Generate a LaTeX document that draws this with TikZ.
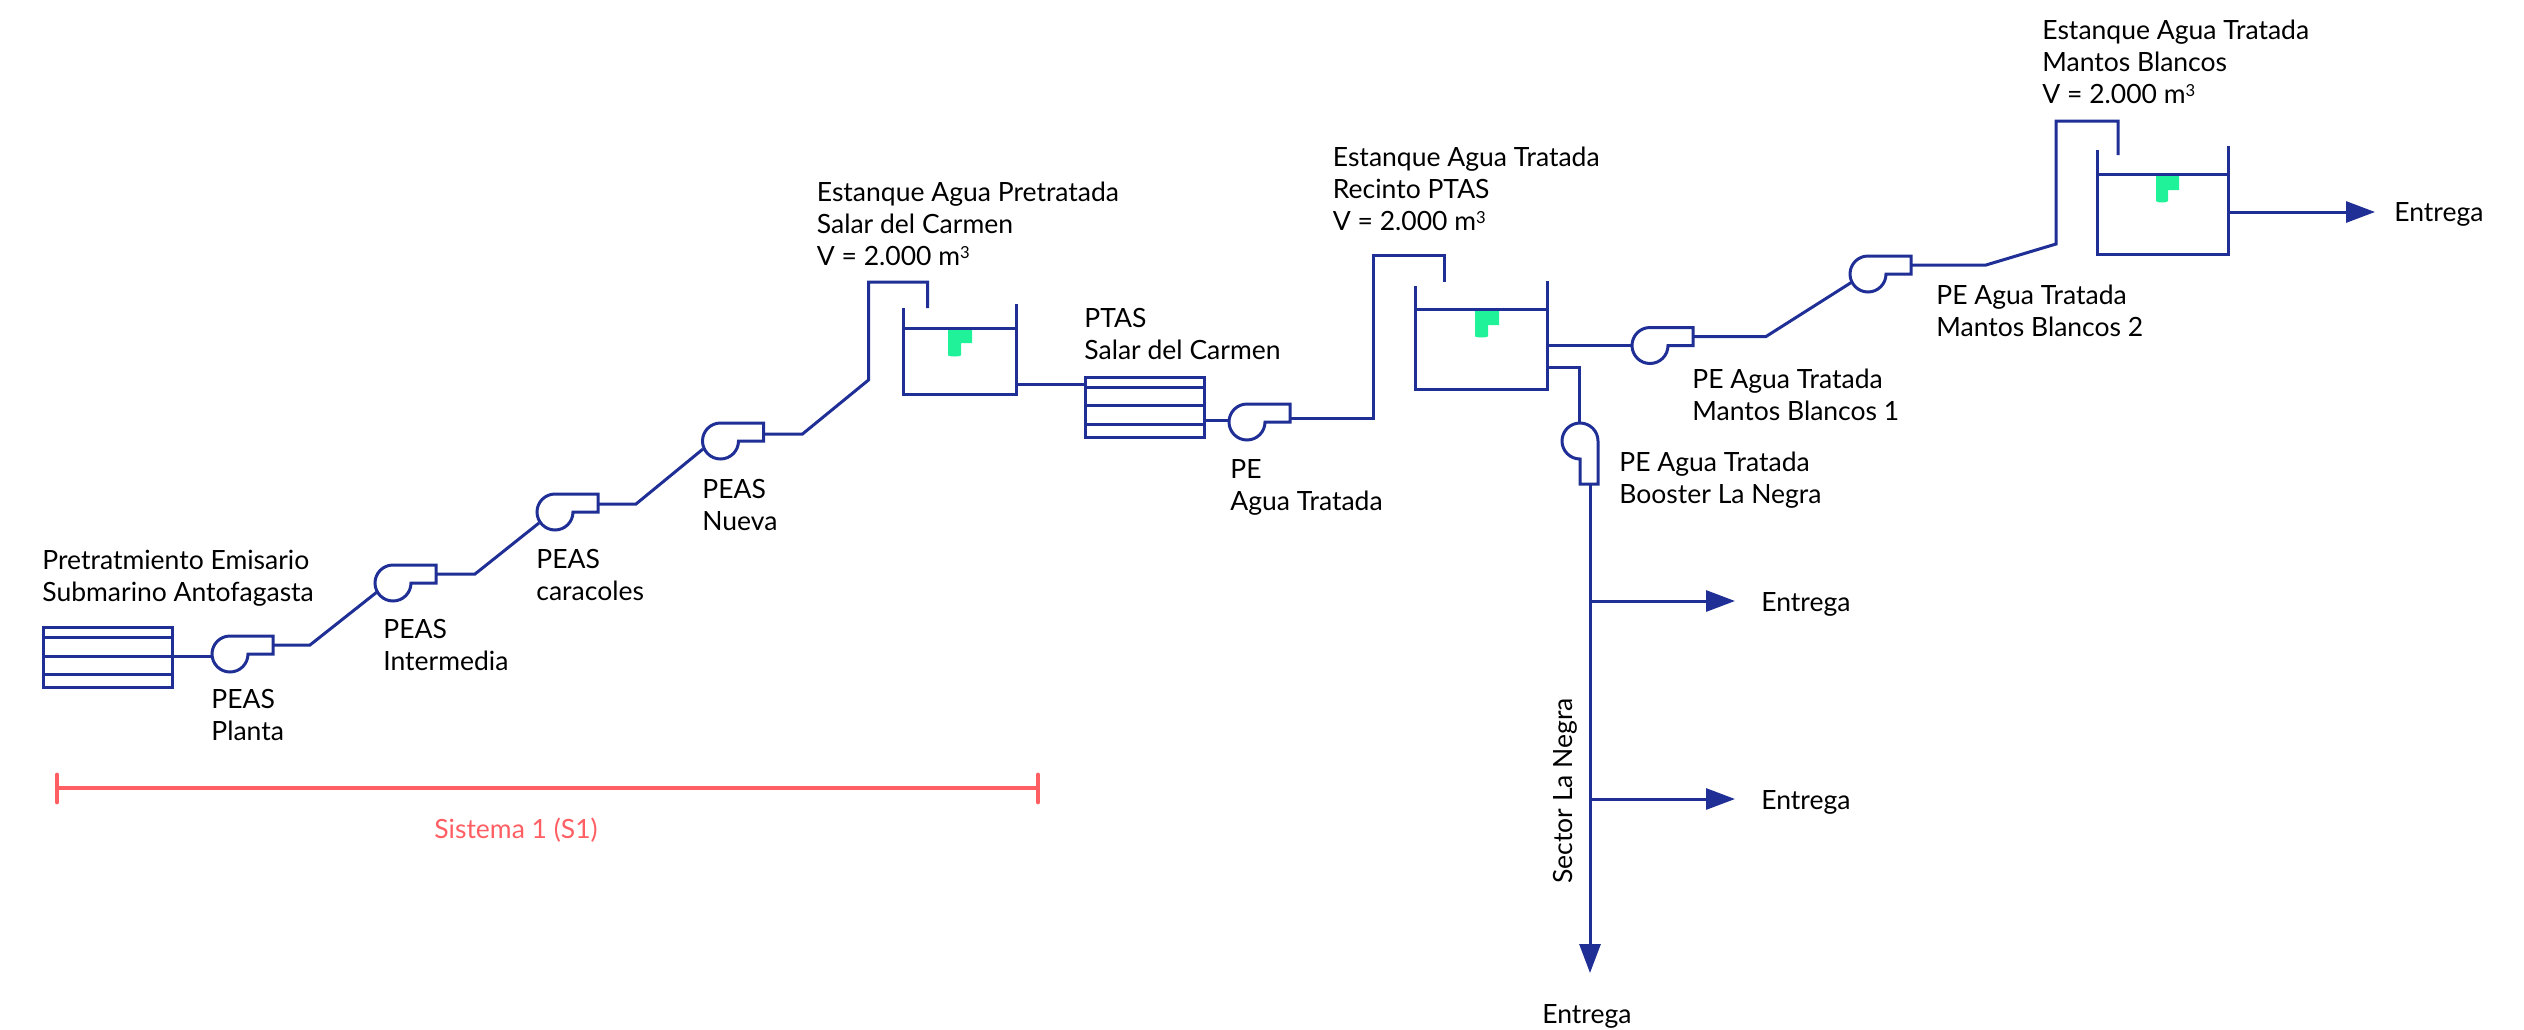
\documentclass[tikz,border=0pt]{standalone}
\usepackage{fontspec}
\setmainfont{Lato}
\usetikzlibrary{arrows.meta}
\definecolor{pipe}{HTML}{1F2F96}
\definecolor{sysred}{HTML}{FF5F63}
\definecolor{lvl}{HTML}{20F29A}
\tikzset{
  x=0.5pt,y=-0.5pt,
  pipeline/.style={draw=pipe,line width=1.5pt,line join=miter},
  flow/.style={pipeline,-{Triangle[length=14.5pt,width=10.5pt]}},
  lbl/.style={anchor=base west,inner sep=0pt,font=\fontsize{13.25}{16}\selectfont,text=black},
  lbltwo/.style={anchor=north west,align=left,inner sep=0pt,font=\fontsize{13.25}{16}\selectfont,text=black},
}
\newcommand{\cubed}{\raisebox{3.5pt}{\fontsize{8.3}{8.3}\selectfont 3}}
% pump: centre, name; outlet to the right
\newcommand{\pumpR}[3]{%
  \coordinate (#3) at (#1,#2);
  \coordinate (#3in) at (#1-18,#2);
  \coordinate (#3out) at (#1+43,#2-9);
  \draw[pipeline] (#1+18,#2) arc[start angle=0,end angle=-270,radius=9pt] -- (#1+43,#2-18) -- (#1+43,#2) -- cycle;
}
\newcommand{\tank}[6]{%
  \draw[pipeline] (#1,#5) -- (#1,#3) -- (#2,#3) -- (#2,#6);
  \draw[pipeline] (#1,#4) -- (#2,#4);
}
\newcommand{\lvlmark}[6]{%
  \fill[lvl] (#1,#4) -- (#3,#4) -- (#3,#5) -- (#2,#5) -- (#2,#6-2) .. controls (#2,#6) and (#1,#6) .. (#1,#6-2) -- cycle;
}
\newcommand{\filtro}[7]{%
  \draw[pipeline] (#1,#3) rectangle (#2,#4);
  \draw[pipeline] (#1,#5) -- (#2,#5) (#1,#6) -- (#2,#6) (#1,#7) -- (#2,#7);
}
\begin{document}
\begin{tikzpicture}
\useasboundingbox (0,0) rectangle (2524,1029);
% filters
\filtro{43}{172}{627}{687}{637}{656}{674}
\filtro{1085}{1204}{377}{437}{387}{405}{424}
\coordinate (f1out) at (172,656);
\coordinate (f2in) at (1085,384);
\coordinate (f2out) at (1204,420);
% pumps
\pumpR{230}{654}{p1}
\pumpR{393}{583}{p2}
\pumpR{555}{512}{p3}
\pumpR{720.5}{441}{p4}
\pumpR{1247}{422}{p5}
\pumpR{1650}{345.5}{p6}
\pumpR{1868}{274}{p7}
% booster pump
\draw[pipeline] (1580,459) arc[start angle=-90,end angle=-360,radius=9pt] -- (1598,484) -- (1580,484) -- cycle;
\coordinate (p8top) at (1579,423);
\coordinate (p8out) at (1590,484);
% tanks
\tank{903}{1016}{394}{328}{308}{304}
\tank{1415}{1547}{389}{309}{286}{281}
\tank{2097}{2228}{254}{174}{150}{146}
\lvlmark{948}{961}{972}{330}{343}{357}
\lvlmark{1475}{1488}{1499}{311}{325}{338}
\lvlmark{2156}{2168}{2179}{176}{190}{203}
% pipes
\draw[pipeline] (f1out) -- (p1in |- f1out);
\draw[pipeline] (p1out) -- (310,645) -- (377,592);
\draw[pipeline] (p2out) -- (475,574) -- (539,523);
\draw[pipeline] (p3out |- 0,504) -- (636,504) -- (703,449);
\draw[pipeline] (p4out |- 0,434) -- (802.5,434) -- (868.5,380) -- (868.5,282) -- (927.5,282) -- (927.5,308);
\draw[pipeline] (1016,384) -- (f2in);
\draw[pipeline] (f2out) -- (1229,420);
\draw[pipeline] (1290,418.5) -- (1373,418.5) -- (1373,255) -- (1444,255) -- (1444,282);
\draw[pipeline] (1547,345.5) -- (p6in);
\draw[pipeline] (p6out) -- (1766,336.5) -- (1852,282);
\draw[pipeline] (p7out) -- (1986,265) -- (2056,244) -- (2056,121) -- (2118,121) -- (2118,155);
\draw[pipeline] (1547,367) -- (1579,367) -- (p8top);
% deliveries
\coordinate (tip1) at (2375,212);
\coordinate (tip2) at (1735,601);
\coordinate (tip3) at (1735,799);
\coordinate (tip4) at (1590,973);
\draw[flow] (2228,212) -- (tip1);
\draw[flow] (p8out) -- (tip4);
\draw[flow] (1590,601) -- (tip2);
\draw[flow] (1590,799) -- (tip3);
% system bar
\draw[draw=sysred,line width=1.6pt] (57,788) -- (1038,788);
\draw[draw=sysred,line width=2.4pt,line cap=round] (57,775) -- (57,802) (1038,775) -- (1038,802);
% labels
\node[lbltwo] (t1) at (42,550) {Pretratmiento Emisario\\Submarino Antofagasta};
\node[lbltwo] (t2) at (211,689) {PEAS\\Planta};
\node[lbltwo] (t3) at (383,619) {PEAS\\Intermedia};
\node[lbltwo] (t4) at (536,549) {PEAS\\caracoles};
\node[lbltwo] (t5) at (702,479) {PEAS\\Nueva};
\node[lbltwo] (t6) at (816.5,181.5) {Estanque Agua Pretratada\\Salar del Carmen\\V = 2.000 m\cubed};
\node[lbltwo] (t7) at (1084,308) {PTAS\\Salar del Carmen};
\node[lbltwo] (t8) at (1230,459) {PE\\Agua Tratada};
\node[lbltwo] (t9) at (1332.5,147) {Estanque Agua Tratada\\Recinto PTAS\\V = 2.000 m\cubed};
\node[lbltwo] (t10) at (1692,369) {PE Agua Tratada\\Mantos Blancos 1};
\node[lbltwo] (t11) at (1619,452) {PE Agua Tratada\\Booster La Negra};
\node[lbltwo] (t12) at (1936,285) {PE Agua Tratada\\Mantos Blancos 2};
\node[lbltwo] (t13) at (2042,19.5) {Estanque Agua Tratada\\Mantos Blancos\\V = 2.000 m\cubed};
\node[lbl] (e1) at (2394,221) {Entrega};
\node[lbl] (e2) at (1761,611) {Entrega};
\node[lbl] (e3) at (1761,809) {Entrega};
\node[lbl] (e4) at (1542,1023) {Entrega};
\node[lbl,rotate=90] (s) at (1572,884) {Sector La Negra};
\node[lbl,text=sysred] (sis) at (434,838) {Sistema 1 (S1)};
\end{tikzpicture}
\end{document}
